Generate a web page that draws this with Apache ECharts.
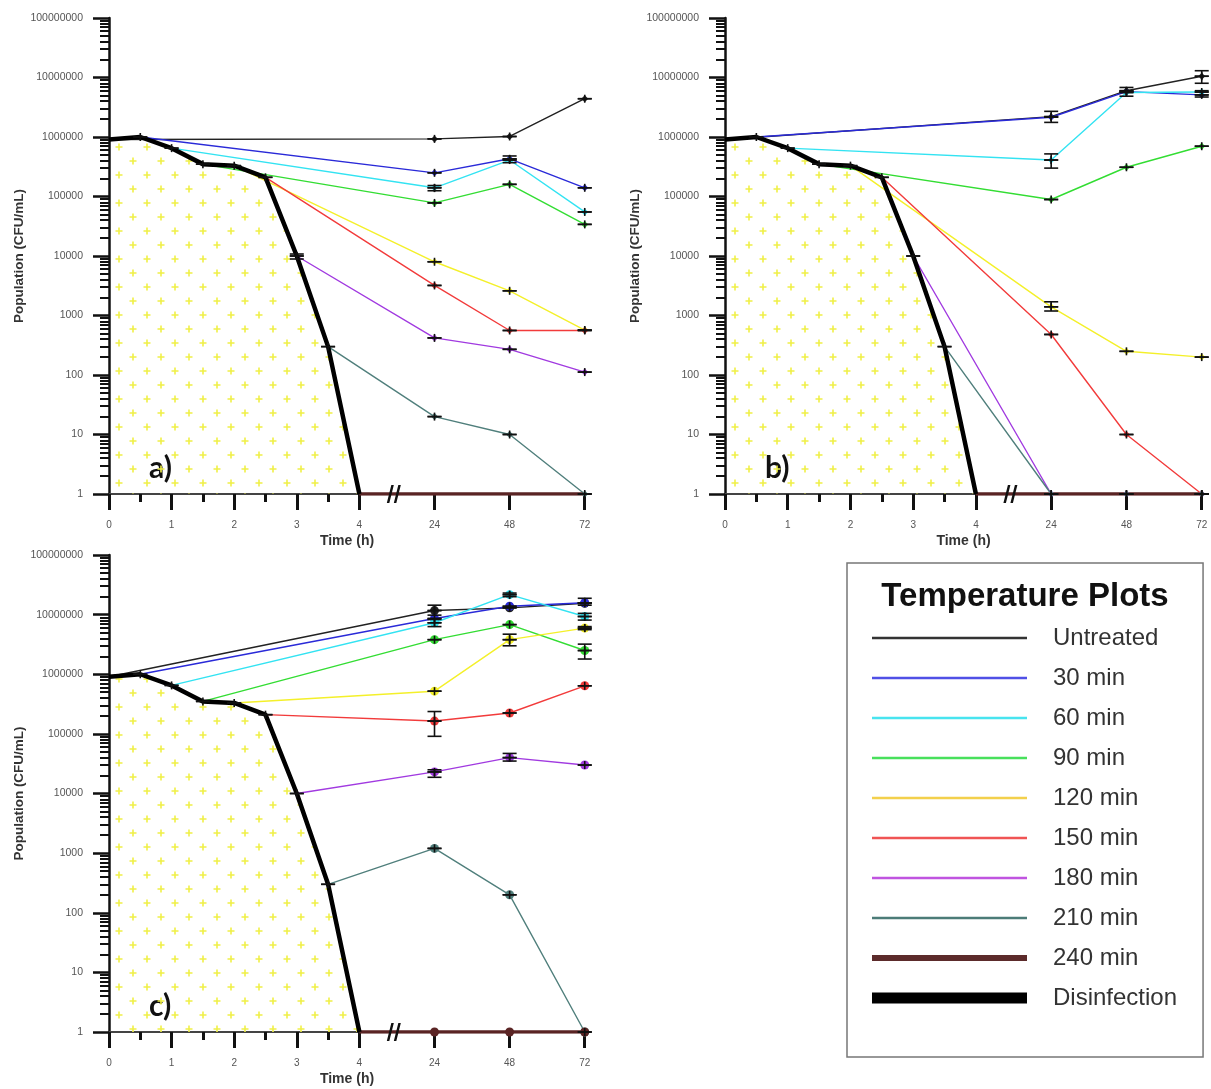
<!DOCTYPE html>
<html>
<head>
<meta charset="utf-8">
<title>Temperature Plots</title>
<script src="https://cdn.jsdelivr.net/npm/echarts@6/dist/echarts.min.js"></script>
<style>
  html, body { margin: 0; padding: 0; background: #fff; }
  #main { width: 1211px; height: 1089px; }
</style>
</head>
<body>
<div id="main"></div>
<script>
// time points (h); 24/48/72 sit after the axis break
const earlyHours = [0, 0.5, 1, 1.5, 2, 2.5, 3, 3.5, 4]
const lateHours = [24, 48, 72]
const xTickHours = [0, 1, 2, 3, 4, 24, 48, 72]
const halfHourTicks = [0.5, 1.5, 2.5, 3.5]
const yTickValues = [1, 10, 100, 1000, 10000, 100000, 1000000, 10000000, 100000000]

const seriesNames = ['Untreated', '30 min', '60 min', '90 min', '120 min', '150 min', '180 min', '210 min', '240 min']
const lineColors = ['#222222', '#2a2ad8', '#33e3f2', '#33dd33', '#f4f02a', '#f23b3b', '#a13ae0', '#507f7c', '#5a2424']
const legendColors = ['#333333', '#5050e6', '#48e4ef', '#48e05c', '#f3d04c', '#f05454', '#c054e0', '#4c7c78', '#5c2b2b']

// disinfection curve, one value per earlyHours entry (same in the three panels)
const disinfection = [9.1e5, 1.0e6, 6.5e5, 3.5e5, 3.3e5, 2.1e5, 1.0e4, 300, 1]

// values at 24, 48, 72 h ; rows follow seriesNames
const panelA = [
  [9.3e5, 1.02e6, 4.4e6],
  [2.5e5, 4.3e5, 1.4e5],
  [1.4e5, 4.1e5, 5.5e4],
  [7.8e4, 1.6e5, 3.4e4],
  [8.0e3, 2.6e3, 5.7e2],
  [3.2e3, 5.6e2, 5.6e2],
  [4.2e2, 2.7e2, 1.12e2],
  [20, 10, 1],
  [1, 1, 1]
]
const panelB = [
  [2.2e6, 6.0e6, 1.05e7],
  [2.15e6, 5.8e6, 5.1e6],
  [4.1e5, 5.6e6, 5.7e6],
  [8.9e4, 3.1e5, 7.0e5],
  [1.4e3, 250, 200],
  [480, 10, 1],
  [1, 1, 1],
  [1, 1, 1],
  [1, 1, 1]
]
const panelC = [
  [1.17e7, 1.3e7, 1.55e7],
  [8.6e6, 1.38e7, 1.58e7],
  [7.3e6, 2.16e7, 9.3e6],
  [3.8e6, 6.8e6, 2.5e6],
  [5.2e5, 3.8e6, 5.95e6],
  [1.64e5, 2.24e5, 6.4e5],
  [2.3e4, 4.0e4, 3.0e4],
  [1.2e3, 200, 1],
  [1, 1, 1]
]

// wide error bars: [hour, low, high]
const errorsA = [[3, 8.9e3, 1.08e4], [24, 1.25e5, 1.53e5], [48, 3.7e5, 4.8e5]]
const errorsB = [[24, 1.76e6, 2.7e6], [48, 4.85e6, 6.8e6], [72, 8.0e6, 1.3e7], [72, 4.7e6, 6.0e6],
  [24, 3.0e5, 5.2e5], [24, 1.19e3, 1.7e3]]
const errorsC = [[24, 9.8e6, 1.44e7], [72, 1.44e7, 1.88e7], [24, 6.3e6, 8.3e6], [48, 2.0e7, 2.3e7],
  [72, 8.1e6, 1.05e7], [72, 1.8e6, 3.2e6], [48, 3.0e6, 4.7e6], [72, 5.6e6, 6.3e6],
  [24, 9.1e4, 2.37e5], [24, 1.87e4, 2.5e4], [48, 3.5e4, 4.7e4]]

const panels = [
  { rows: panelA, errors: errorsA, tag: 'a)', grid: { left: 109, top: 18, width: 482, height: 476 }, marker: 'diamond' },
  { rows: panelB, errors: errorsB, tag: 'b)', grid: { left: 725, top: 18, width: 483, height: 476 }, marker: 'diamond' },
  { rows: panelC, errors: errorsC, tag: 'c)', grid: { left: 109, top: 555, width: 482, height: 477 }, marker: 'circle' }
]
const xMax = 7.7

// broken time axis: 0-4 h linear, then 24 h per 1.2 units
function hourToPos (h) {
  return h <= 4 ? h : 4 + h / 20
}
const xTickPos = xTickHours.map(hourToPos)

// log minor ticks 2..9 x 10^n
const yMinorTicks = []
for (let d = 0; d < 8; d++) {
  for (let k = 2; k <= 9; k++) yMinorTicks.push(k * Math.pow(10, d))
}

// yellow "+" pattern under the disinfection curve
const dotCanvas = document.createElement('canvas')
dotCanvas.width = 28
dotCanvas.height = 28
const g = dotCanvas.getContext('2d')
g.strokeStyle = '#f0f048'
g.lineWidth = 1.6
;[[7, 7], [21, 21]].forEach(function (p) {
  g.beginPath()
  g.moveTo(p[0] - 3.5, p[1]); g.lineTo(p[0] + 3.5, p[1])
  g.moveTo(p[0], p[1] - 3.5); g.lineTo(p[0], p[1] + 3.5)
  g.stroke()
})

function renderErrorBar (params, api) {
  const x = api.value(0)
  const hi = api.coord([x, api.value(2)])
  const lo = api.coord([x, api.value(1)])
  let y1 = hi[1]
  let y2 = lo[1]
  if (y2 - y1 < 8) {
    const mid = (y1 + y2) / 2
    y1 = Math.min(y1, mid - 4)
    y2 = Math.max(y2, mid + 4)
  }
  const style = { stroke: '#111', lineWidth: 1.6 }
  return {
    type: 'group',
    children: [
      { type: 'line', shape: { x1: lo[0], y1: y1, x2: lo[0], y2: y2 }, style: style },
      { type: 'line', shape: { x1: lo[0] - 7, y1: hi[1], x2: lo[0] + 7, y2: hi[1] }, style: style },
      { type: 'line', shape: { x1: lo[0] - 7, y1: lo[1], x2: lo[0] + 7, y2: lo[1] }, style: style }
    ]
  }
}

const grids = []
const xAxes = []
const yAxes = []
const series = []
const graphics = []

// legend-only series (first, so the legend takes their look)
const legendItems = []
seriesNames.forEach(function (name, i) {
  const w = i === 8 ? 6 : 2.5
  series.push({
    type: 'line', name: name, data: [], xAxisIndex: 0, yAxisIndex: 0, symbol: 'none',
    lineStyle: { color: legendColors[i], width: w }, itemStyle: { color: legendColors[i] }
  })
  legendItems.push({ name: name, lineStyle: { color: legendColors[i], width: w } })
})
series.push({
  type: 'line', name: 'Disinfection', data: [], xAxisIndex: 0, yAxisIndex: 0, symbol: 'none',
  lineStyle: { color: '#000', width: 11 }, itemStyle: { color: '#000' }
})
legendItems.push({ name: 'Disinfection', lineStyle: { color: '#000', width: 11 } })

panels.forEach(function (panel, p) {
  grids.push(Object.assign({ containLabel: false, outerBoundsMode: 'none' }, panel.grid))
  const xi = 2 * p
  const yi = 2 * p

  xAxes.push({
    type: 'value', gridIndex: p, min: 0, max: xMax, position: 'bottom',
    name: 'Time (h)', nameLocation: 'middle', nameGap: 40,
    nameTextStyle: { fontFamily: 'Liberation Sans', fontWeight: 'bold', fontSize: 14, color: '#333', padding: [0, 6, 0, 0] },
    axisLine: { lineStyle: { color: '#444', width: 2 } },
    axisTick: { customValues: xTickPos, length: 16, lineStyle: { color: '#111', width: 3 } },
    axisLabel: {
      customValues: xTickPos, margin: 26, fontSize: 10, color: '#555', fontFamily: 'Liberation Sans',
      formatter: function (v) {
        const k = xTickPos.findIndex(function (t) { return Math.abs(t - v) < 1e-6 })
        return k >= 0 ? String(xTickHours[k]) : ''
      }
    },
    splitLine: { show: false }
  })
  xAxes.push({
    type: 'value', gridIndex: p, min: 0, max: xMax, position: 'bottom',
    axisLine: { show: false }, axisLabel: { show: false }, splitLine: { show: false },
    axisTick: { customValues: halfHourTicks, length: 8, lineStyle: { color: '#111', width: 3 } }
  })

  yAxes.push({
    type: 'log', logBase: 10, gridIndex: p, min: 1, max: 1e8, position: 'left',
    name: 'Population (CFU/mL)', nameLocation: 'middle', nameGap: 83,
    nameTextStyle: { fontFamily: 'Liberation Sans', fontWeight: 'bold', fontSize: 13.5, color: '#333' },
    axisLine: { show: true, lineStyle: { color: '#111', width: 2.5 } },
    axisTick: { customValues: yTickValues, length: 16, lineStyle: { color: '#111', width: 2.5 } },
    axisLabel: {
      customValues: yTickValues, margin: 26, fontSize: 10.5, color: '#555', fontFamily: 'Liberation Sans',
      formatter: function (v) { return String(Math.round(v)) }
    },
    splitLine: { show: false }
  })
  yAxes.push({
    type: 'log', logBase: 10, gridIndex: p, min: 1, max: 1e8, position: 'left',
    axisLine: { show: false }, axisLabel: { show: false }, splitLine: { show: false },
    axisTick: { customValues: yMinorTicks, length: 9, lineStyle: { color: '#111', width: 2 } }
  })

  // treatment curves, each branching off the disinfection curve
  const caps = []
  panel.rows.forEach(function (late, i) {
    const data = [{ value: [hourToPos(earlyHours[i]), disinfection[i]], symbol: 'none' }]
    late.forEach(function (v, k) {
      data.push([hourToPos(lateHours[k]), v])
      if (i < 8) caps.push([hourToPos(lateHours[k]), v, v])
    })
    series.push({
      type: 'line', name: seriesNames[i], xAxisIndex: xi, yAxisIndex: yi, data: data,
      symbol: i === 8 && p < 2 ? 'none' : panel.marker,
      symbolSize: p === 2 ? 9 : 7,
      lineStyle: { color: lineColors[i], width: i === 8 ? 3.5 : 1.4 },
      itemStyle: { color: lineColors[i] },
      z: 2,
      markPoint: i === 8 ? {
        symbol: 'path://M0,18L4.5,0L7,0L2.5,18Z M7,18L11.5,0L14,0L9.5,18Z',
        symbolSize: [14, 18],
        itemStyle: { color: '#111' },
        label: { show: false },
        data: [{ coord: [4.55, 1] }]
      } : undefined
    })
  })

  // disinfection curve with the dotted area
  series.push({
    type: 'line', name: 'Disinfection', xAxisIndex: xi, yAxisIndex: yi,
    data: earlyHours.map(function (h, k) { return [hourToPos(h), disinfection[k]] }),
    symbol: 'none',
    lineStyle: { color: '#000', width: 4.5 },
    areaStyle: { origin: 'start', opacity: 1, color: { image: dotCanvas, repeat: 'repeat' } },
    z: 4
  })

  earlyHours.forEach(function (h, k) {
    if (k > 0 && k < 8) caps.push([hourToPos(h), disinfection[k], disinfection[k]])
  })
  panel.errors.forEach(function (e) { caps.push([hourToPos(e[0]), e[1], e[2]]) })

  series.push({
    type: 'custom', name: 'err' + p, xAxisIndex: xi, yAxisIndex: yi,
    renderItem: renderErrorBar, data: caps, z: 5, silent: true
  })

  graphics.push({
    type: 'text', x: panel.grid.left + 40, y: panel.grid.top + panel.grid.height - 41,
    style: { text: panel.tag, font: 'bold 30px Lato', fill: '#111' }
  })
})

graphics.push({
  type: 'text', x: 1025, y: 597,
  style: { text: 'Temperature Plots', font: 'bold 33px "Liberation Sans"', fill: '#111', align: 'center', verticalAlign: 'middle' }
})

const chart = echarts.init(document.getElementById('main'))
chart.setOption({
  animation: false,
  backgroundColor: '#fff',
  grid: grids,
  xAxis: xAxes,
  yAxis: yAxes,
  legend: {
    orient: 'vertical', left: 847, top: 563,
    padding: [63, 26, 47, 19.5],
    itemWidth: 155, itemHeight: 14, itemGap: 16,
    borderColor: '#777', borderWidth: 1.5,
    selectedMode: false,
    itemStyle: { opacity: 0 },
    textStyle: { fontFamily: 'Liberation Sans', fontSize: 24, color: '#333', padding: [0, 0, 0, 21] },
    data: legendItems
  },
  graphic: graphics,
  series: series
})
</script>
</body>
</html>
